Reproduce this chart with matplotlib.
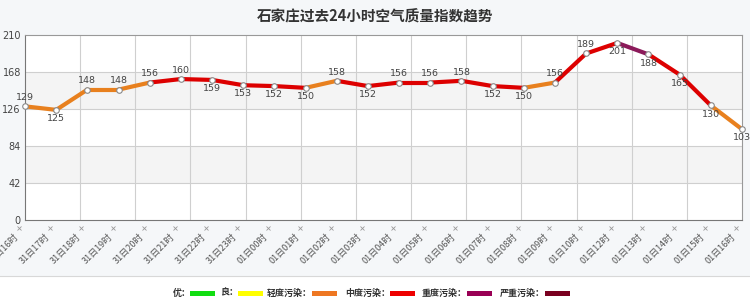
import matplotlib
matplotlib.use("Agg")
import matplotlib.pyplot as plt
from matplotlib.patches import Rectangle
from matplotlib.lines import Line2D
import matplotlib.transforms as mtransforms
import numpy as np

plt.rcParams['font.family'] = ['Noto Sans CJK SC', 'DejaVu Sans']

title = "石家庄过去24小时空气质量指数趋势"
hours = ["31日16时", "31日17时", "31日18时", "31日19时", "31日20时", "31日21时",
         "31日22时", "31日23时", "01日00时", "01日01时", "01日02时", "01日03时",
         "01日04时", "01日05时", "01日06时", "01日07时", "01日08时", "01日09时",
         "01日10时", "01日12时", "01日13时", "01日14时", "01日15时", "01日16时"]
aqi = [129, 125, 148, 148, 156, 160, 159, 153, 152, 150, 158, 152,
       156, 156, 158, 152, 150, 156, 189, 201, 188, 165, 130, 103]
yticks = [0, 42, 84, 126, 168, 210]
levels = ["优", "良", "轻度污染", "中度污染", "重度污染", "严重污染"]
level_bounds = [50, 100, 150, 200, 300, 500]
line_colors = ["#22dd22", "#f5e800", "#e8801e", "#dd0000", "#8b1a5a", "#7e0023"]
legend_colors = ["#11dd11", "#ffff00", "#ee7722", "#ee0000", "#990055", "#7a0020"]

def level_of(v):
    for i, b in enumerate(level_bounds):
        if v <= b:
            return i
    return len(level_bounds) - 1

W, H = 750, 304
fig = plt.figure(figsize=(W / 100, H / 100), dpi=100)
fig.patch.set_facecolor("#f5f7f9")
fig.patches.append(Rectangle((0, 0), 1, 1 - 276 / H, transform=fig.transFigure,
                             facecolor="white", edgecolor="none", zorder=0))
fig.lines.append(Line2D([0, 1], [1 - 276 / H] * 2, transform=fig.transFigure,
                        color="#d8d8d8", lw=0.8))

ax = fig.add_axes([25 / W, 1 - 220 / H, (742 - 25) / W, (220 - 35) / H])
ax.set_facecolor("white")
n = len(aqi)
x = np.arange(n)
ax.set_xlim(0, n - 1)
ax.set_ylim(0, 210)

for lo, hi in [(42, 84), (126, 168)]:
    ax.axhspan(lo, hi, color="#f4f4f4", zorder=0, lw=0)
for yv in yticks[1:-1]:
    ax.axhline(yv, color="#cfcfcf", lw=0.8, zorder=1)
for gx in np.linspace(0, n - 1, 14)[1:-1]:
    ax.axvline(gx, color="#cfcfcf", lw=0.8, zorder=1)

for i in range(n - 1):
    c = line_colors[level_of(aqi[i])]
    ax.plot(x[i:i + 2], aqi[i:i + 2], color=c, lw=3.0, solid_capstyle="round", zorder=3)
ax.plot(x, aqi, ls="none", marker="o", ms=4, mfc="white", mec="#888888", mew=0.8,
        zorder=4, clip_on=False)

for i, v in enumerate(aqi):
    above = (i == 0 or v >= aqi[i - 1]) and v < 200
    if above:
        ax.annotate(str(v), (i, v), xytext=(0, 3), textcoords="offset points",
                    ha="center", va="bottom", fontsize=6.8, color="#444444",
                    family="DejaVu Sans", zorder=5)
    else:
        ax.annotate(str(v), (i, v), xytext=(0, -3), textcoords="offset points",
                    ha="center", va="top", fontsize=6.8, color="#444444",
                    family="DejaVu Sans", zorder=5)

for s in ax.spines.values():
    s.set_color("#999999")
    s.set_linewidth(0.8)
ax.spines["left"].set_color("#777777")
ax.spines["bottom"].set_color("#777777")

ax.set_yticks(yticks)
ax.set_yticklabels([str(t) for t in yticks], fontsize=7, color="#444444",
                   family="DejaVu Sans")
ax.tick_params(axis="y", length=0, pad=3)
ax.set_xticks(x)
ax.set_xticklabels([])
ax.tick_params(axis="x", length=0)

xm_off = mtransforms.ScaledTranslation(-6 / 100, -8 / 100, fig.dpi_scale_trans)
xm_trans = mtransforms.blended_transform_factory(ax.transData, ax.transAxes) + xm_off
ax.plot(x, np.zeros(n), ls="none", marker="x", ms=2.5, mew=0.6, color="#999999",
        transform=xm_trans, clip_on=False)

offset = mtransforms.ScaledTranslation(-11 / 100, -12 / 100, fig.dpi_scale_trans)
trans = mtransforms.blended_transform_factory(ax.transData, ax.transAxes) + offset
for i, lab in enumerate(hours):
    ax.text(i, 0, lab, transform=trans, rotation=45, rotation_mode="anchor",
            ha="right", va="top", fontsize=6.5, color="#555555", clip_on=False)

fig.text(375 / W, 1 - 17 / H, title, ha="center", va="center", fontsize=10.5,
         fontweight="bold", color="#333333")

text_x = [173, 220, 267, 345, 422, 500]
bar_x = [190, 238, 312, 390, 467, 545]
ly = 1 - 293 / H
for lab, tx, bx, c in zip(levels, text_x, bar_x, legend_colors):
    fig.text(tx / W, ly, lab + "：", ha="left", va="center", fontsize=6.5,
             color="#333333", fontweight="bold")
    fig.patches.append(Rectangle((bx / W, ly - 2.5 / H), 25 / W, 5 / H,
                                 transform=fig.transFigure, facecolor=c,
                                 edgecolor="none"))

fig.savefig("out.png", dpi=100, facecolor=fig.get_facecolor())
